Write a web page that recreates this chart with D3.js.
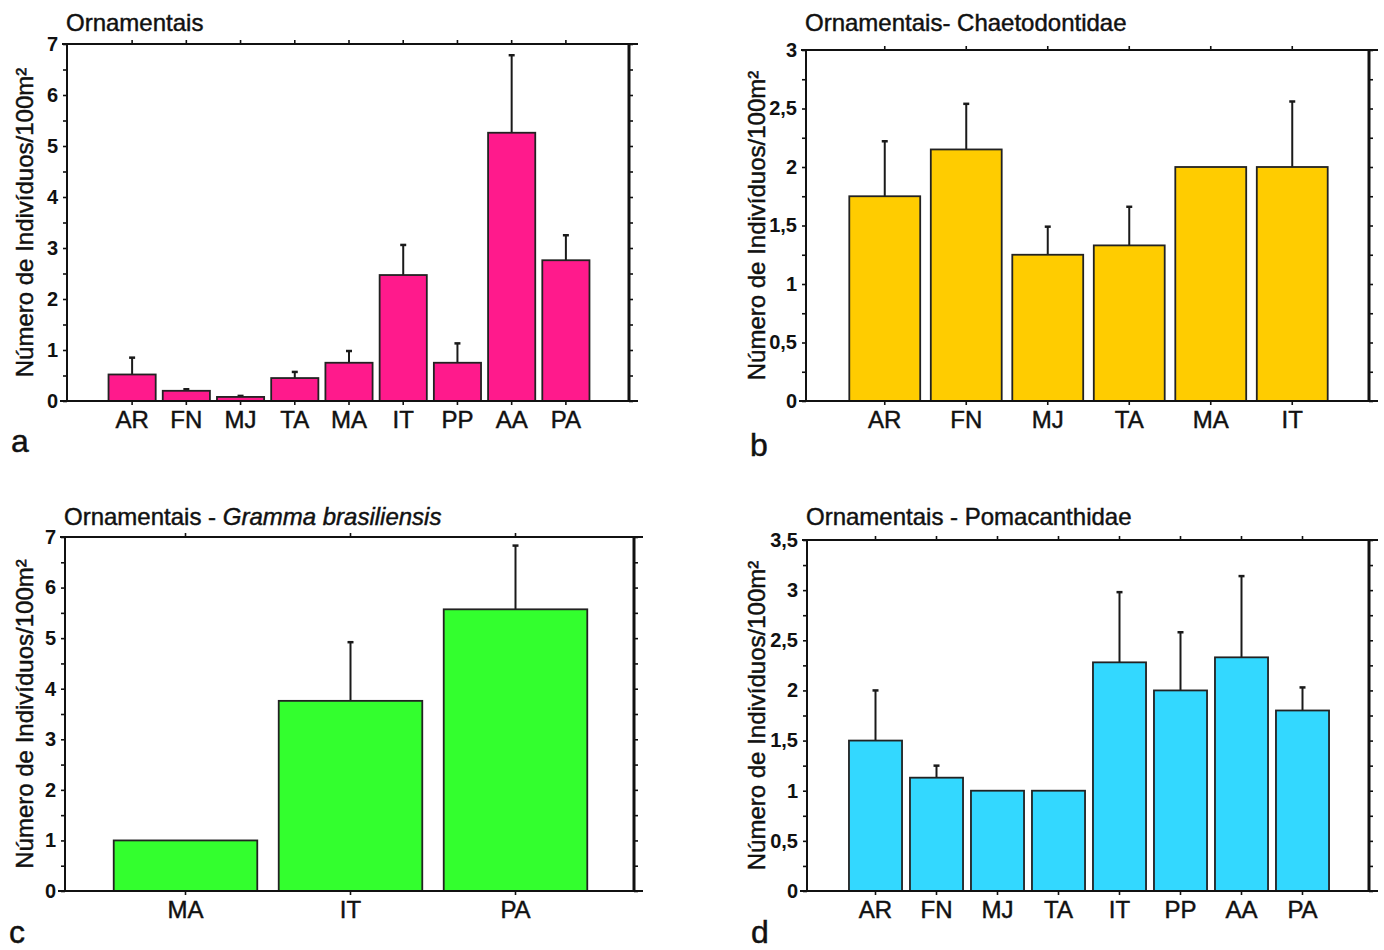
<!DOCTYPE html>
<html>
<head>
<meta charset="utf-8">
<script src="https://cdnjs.cloudflare.com/ajax/libs/d3/7.8.5/d3.min.js"></script>
<style>
  html, body { margin: 0; padding: 0; background: #fff; }
  svg { display: block; }
  text { font-family: "Liberation Sans", Arial, Helvetica, sans-serif; fill: #111; }
  .heavy { stroke: #111; stroke-width: 0.45px; }
</style>
</head>
<body>
<svg id="chart" width="1384" height="950"></svg>
<script>
// Densidade de peixes ornamentais - 4 painéis (a-d)

// painel a - Ornamentais
const catsA = ["AR", "FN", "MJ", "TA", "MA", "IT", "PP", "AA", "PA"];
const meanA = [0.52, 0.20, 0.08, 0.45, 0.75, 2.47, 0.75, 5.26, 2.76];
const upperA = [0.85, 0.23, 0.10, 0.57, 0.98, 3.06, 1.13, 6.78, 3.25];
const ticksA = [0, 1, 2, 3, 4, 5, 6, 7];

// painel b - Chaetodontidae
const catsB = ["AR", "FN", "MJ", "TA", "MA", "IT"];
const meanB = [1.75, 2.15, 1.25, 1.33, 2.00, 2.00];
const upperB = [2.22, 2.54, 1.49, 1.66, null, 2.56];
const ticksB = [0, 0.5, 1, 1.5, 2, 2.5, 3];

// painel c - Gramma brasiliensis
const catsC = ["MA", "IT", "PA"];
const meanC = [1.00, 3.76, 5.57];
const upperC = [null, 4.92, 6.83];
const ticksC = [0, 1, 2, 3, 4, 5, 6, 7];

// painel d - Pomacanthidae
const catsD = ["AR", "FN", "MJ", "TA", "IT", "PP", "AA", "PA"];
const meanD = [1.50, 1.13, 1.00, 1.00, 2.28, 2.00, 2.33, 1.80];
const upperD = [2.00, 1.25, null, null, 2.98, 2.58, 3.14, 2.03];
const ticksD = [0, 0.5, 1, 1.5, 2, 2.5, 3, 3.5];

const yLabel = "Número de Indivíduos/100m²";

const panels = [
    { letter: "a", title: ["Ornamentais"], cats: catsA, mean: meanA, upper: upperA,
      ticks: ticksA, minorStep: 0.5, color: "#ff1a8c",
      box: { left: 67, right: 629, top: 44, bottom: 401 }, titleY: 31, letterY: 452, labelOff: 34 },
    { letter: "b", title: ["Ornamentais- Chaetodontidae"], cats: catsB, mean: meanB, upper: upperB,
      ticks: ticksB, minorStep: 0.25, color: "#ffcc00",
      box: { left: 806, right: 1369, top: 50, bottom: 401 }, titleY: 31, letterY: 456, labelOff: 41 },
    { letter: "c", title: ["Ornamentais - ", "Gramma brasiliensis"], cats: catsC, mean: meanC, upper: upperC,
      ticks: ticksC, minorStep: 0.5, color: "#33ff2e",
      box: { left: 65, right: 634, top: 537, bottom: 891 }, titleY: 525, letterY: 943, labelOff: 32 },
    { letter: "d", title: ["Ornamentais - Pomacanthidae"], cats: catsD, mean: meanD, upper: upperD,
      ticks: ticksD, minorStep: 0.25, color: "#33d8ff",
      box: { left: 807, right: 1369, top: 540, bottom: 891 }, titleY: 525, letterY: 943, labelOff: 42 }
];

const svg = d3.select("#chart");
const fmt = d => String(d).replace(".", ",");

panels.forEach(p => {
    const b = p.box;
    const g = svg.append("g").attr("class", "panel-" + p.letter);
    const yMax = d3.max(p.ticks);

    const x = d3.scaleBand()
        .domain(p.cats)
        .range([b.left + 38, b.right - 36])
        .paddingInner(0.13)
        .paddingOuter(0.065);

    const y = d3.scaleLinear().domain([0, yMax]).range([b.bottom, b.top]);
    const minor = d3.range(0, yMax + 1e-9, p.minorStep).filter(v => !p.ticks.includes(v));
    const allTicks = d3.range(0, yMax + 1e-9, p.minorStep);

    const data = p.cats.map((c, i) => ({ cat: c, v: p.mean[i], up: p.upper[i] }));

    // error bars (bar drawn over their base)
    const eb = g.selectAll(".err").data(data.filter(d => d.up != null)).enter().append("g").attr("class", "err");
    eb.append("line")
        .attr("x1", d => x(d.cat) + x.bandwidth() / 2)
        .attr("x2", d => x(d.cat) + x.bandwidth() / 2)
        .attr("y1", d => y(d.v))
        .attr("y2", d => y(d.up))
        .attr("stroke", "#1a1a1a").attr("stroke-width", 2);
    eb.append("line")
        .attr("x1", d => x(d.cat) + x.bandwidth() / 2 - 3)
        .attr("x2", d => x(d.cat) + x.bandwidth() / 2 + 3)
        .attr("y1", d => y(d.up))
        .attr("y2", d => y(d.up))
        .attr("stroke", "#1a1a1a").attr("stroke-width", 2.5);

    g.selectAll(".bar").data(data).enter().append("rect")
        .attr("class", "bar")
        .attr("x", d => x(d.cat))
        .attr("y", d => y(d.v))
        .attr("width", x.bandwidth())
        .attr("height", d => y(0) - y(d.v))
        .attr("fill", p.color)
        .attr("stroke", "#222")
        .attr("stroke-width", 1.8);

    // left axis: labelled major ticks + minor ticks
    const left = g.append("g").attr("transform", `translate(${b.left},0)`)
        .call(d3.axisLeft(y).tickValues(p.ticks).tickFormat(fmt).tickSize(4).tickPadding(5));
    g.append("g").attr("transform", `translate(${b.left},0)`)
        .call(d3.axisLeft(y).tickValues(minor).tickFormat("").tickSize(4));

    // right axis: ticks only
    g.append("g").attr("transform", `translate(${b.right},0)`)
        .call(d3.axisRight(y).tickValues(allTicks).tickFormat("").tickSize(4));

    // bottom and top category ticks
    g.append("g").attr("class", "x-axis").attr("transform", `translate(0,${b.bottom})`)
        .call(d3.axisBottom(x).tickSize(4).tickPadding(6));
    g.append("g").attr("transform", `translate(0,${b.top})`)
        .call(d3.axisTop(x).tickSize(4).tickFormat(""));

    g.selectAll(".domain").remove();
    g.selectAll(".tick line").attr("stroke", "#111").attr("stroke-width", 1.6);

    left.selectAll("text")
        .style("font-size", "20px").style("font-weight", "bold");
    g.select(".x-axis").selectAll("text")
        .attr("class", "heavy")
        .style("font-size", "24px");

    // frame
    g.append("line").attr("x1", b.left).attr("x2", b.left).attr("y1", b.top - 1).attr("y2", b.bottom + 1)
        .attr("stroke", "#111").attr("stroke-width", 2);
    g.append("line").attr("x1", b.right).attr("x2", b.right).attr("y1", b.top - 1).attr("y2", b.bottom + 1)
        .attr("stroke", "#111").attr("stroke-width", 3);
    g.append("line").attr("x1", b.left - 5).attr("x2", b.right + 9).attr("y1", b.top).attr("y2", b.top)
        .attr("stroke", "#111").attr("stroke-width", 2);
    g.append("line").attr("x1", b.left - 7).attr("x2", b.right + 9).attr("y1", b.bottom).attr("y2", b.bottom)
        .attr("stroke", "#111").attr("stroke-width", 2);

    // title
    const t = g.append("text").attr("class", "heavy")
        .attr("x", b.left - 1).attr("y", p.titleY).style("font-size", "24px");
    p.title.forEach((s, i) => {
        t.append("tspan").text(s).style("font-style", i === 1 ? "italic" : "normal");
    });

    // y label
    g.append("text").attr("class", "heavy")
        .attr("transform", `translate(${b.left - p.labelOff},${(b.top + b.bottom) / 2}) rotate(-90)`)
        .attr("text-anchor", "middle")
        .style("font-size", "24px")
        .text(yLabel);

    // panel letter
    g.append("text").attr("class", "heavy")
        .attr("x", b.left - 56).attr("y", p.letterY)
        .style("font-size", "32px").text(p.letter);
});
</script>
</body>
</html>
